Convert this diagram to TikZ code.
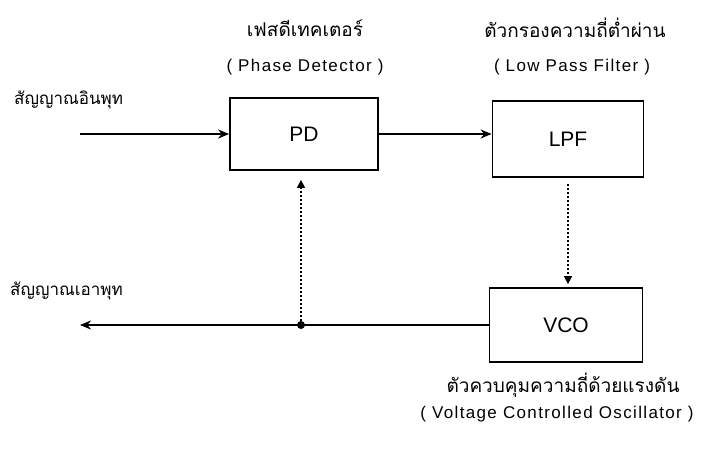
\documentclass[tikz,border=0pt]{standalone}
\usepackage{fontspec}
\setmainfont{Liberation Sans}
\newfontfamily\thaifont[Script=Thai]{Loma}
\newfontfamily\latinsp[LetterSpace=8]{Liberation Sans}
\usetikzlibrary{arrows.meta,calc}
\tikzset{
  blockbox/.style={draw, line width=1.8pt, minimum width=#1, inner sep=0pt, font=\fontsize{21}{24}\selectfont},
  thailabel/.style={inner sep=0pt, font=\thaifont\fontsize{18}{20}\selectfont},
  enlabel/.style={inner sep=0pt, font=\latinsp\fontsize{17}{20}\selectfont},
  sigline/.style={line width=1.8pt, -{Stealth[length=11pt,width=9pt]}},
  fbline/.style={line width=1.6pt, dash pattern=on 2pt off 2pt, -{Triangle[length=8pt,width=8pt]}},
}
\begin{document}
\begin{tikzpicture}[x=1pt,y=-1pt]
\useasboundingbox (0,0) rectangle (712,449);
% blocks
\node[blockbox=148pt, minimum height=72pt] (PD) at (304,134) {PD};
\node[blockbox=151pt, minimum height=76pt] (LPF) at (568,139) {LPF};
\node[blockbox=153pt, minimum height=74pt] (VCO) at (566,325) {VCO};
% labels
\node[thailabel, font=\thaifont\fontsize{19}{21}\selectfont] (t1) at (305,28) {เฟสดีเทคเตอร์};
\node[enlabel] (e1) at (305,67) {( Phase Detector )};
\node[thailabel, font=\thaifont\fontsize{19}{21}\selectfont] (t2) at (575,28) {ตัวกรองความถี่ต่ำผ่าน};
\node[enlabel] (e2) at (572,67) {( Low Pass Filter )};
\node[thailabel, font=\thaifont\fontsize{17}{19}\selectfont, anchor=west] (tin) at (14,100) {สัญญาณอินพุท};
\node[thailabel, font=\thaifont\fontsize{17}{19}\selectfont, anchor=west] (tout) at (10,291) {สัญญาณเอาพุท};
\node[thailabel, font=\thaifont\fontsize{19}{21}\selectfont] (t3) at (563,385) {ตัวควบคุมความถี่ด้วยแรงดัน};
\node[enlabel] (e3) at (557,414) {( Voltage Controlled Oscillator )};
% connectors
\coordinate (in) at (80,134);
\coordinate (out) at (80,325);
\coordinate (j) at (301,325);
\draw[sigline] (in) -- (PD.west);
\draw[sigline] (PD.east) -- (PD.east -| LPF.west);
\draw[line width=1.8pt] (VCO.west) -- (j);
\draw[sigline] (j) -- (out);
\fill (j) circle (4pt);
\draw[fbline, shorten <=6pt, shorten >=3pt] (LPF.south) -- (LPF.south |- VCO.north);
\draw[fbline, shorten <=4pt, shorten >=9pt] (j) -- (j |- PD.south);
\end{tikzpicture}
\end{document}
